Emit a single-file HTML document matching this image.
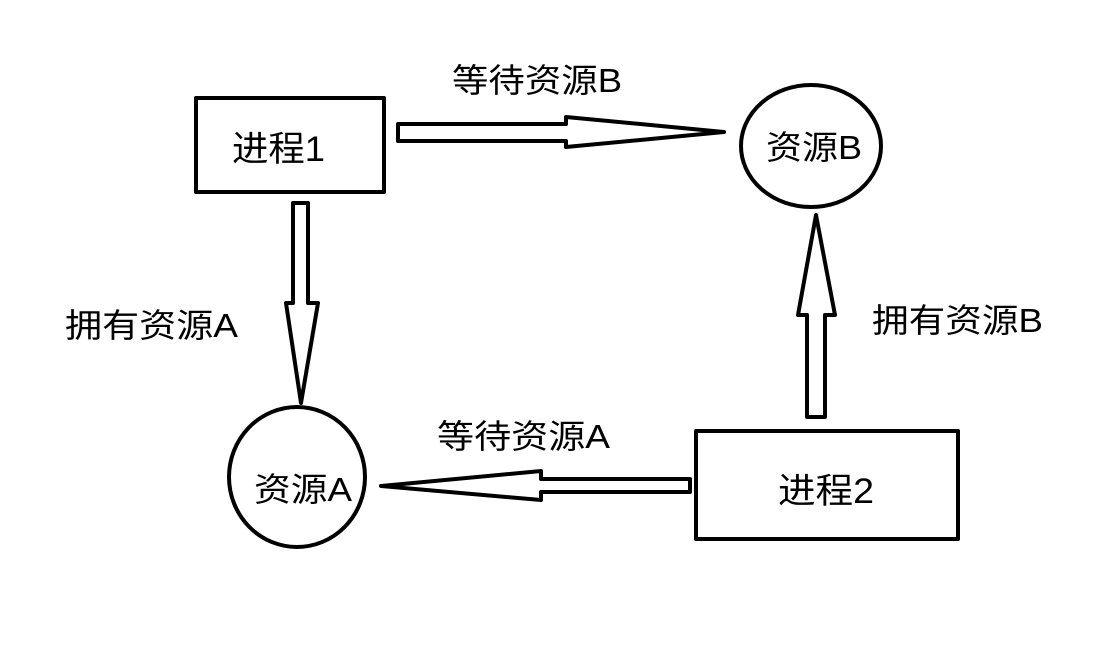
<!DOCTYPE html>
<html><head><meta charset="utf-8"><style>
html,body{margin:0;padding:0;background:#fff;}
svg text{font-family:"Liberation Sans","Noto Sans CJK SC",sans-serif;fill:#000;}
</style></head><body>
<svg width="1112" height="656" viewBox="0 0 1112 656" xmlns="http://www.w3.org/2000/svg">
<g fill="none" stroke="#000" stroke-width="4" stroke-linejoin="round">
<rect x="196" y="98" width="188" height="94"/>
<rect x="696" y="431" width="262" height="108"/>
<ellipse cx="811" cy="146" rx="70" ry="61"/>
<ellipse cx="297" cy="477" rx="68" ry="70"/>
<polygon points="398,124 566,124 566,117 724,132 566,147 566,141 398,141"/>
<polygon points="690,479 541,479 541,471 381,486 541,500 541,492 690,492"/>
<polygon points="293,203 308,203 308,303 318,303 301,403 286,303 293,303"/>
<polygon points="807,417 825,417 825,315 835,315 816,215 798,315 807,315"/>
</g>
<g font-size="33">
<text x="452" y="92" textLength="170" lengthAdjust="spacingAndGlyphs">等待资源B</text>
<text x="65" y="337" textLength="173" lengthAdjust="spacingAndGlyphs">拥有资源A</text>
<text x="872" y="332" textLength="171" lengthAdjust="spacingAndGlyphs">拥有资源B</text>
<text x="437" y="448" textLength="173" lengthAdjust="spacingAndGlyphs">等待资源A</text>
<text x="232" y="161" font-size="35" textLength="93" lengthAdjust="spacingAndGlyphs">进程1</text>
<text x="778" y="503" font-size="35" textLength="96" lengthAdjust="spacingAndGlyphs">进程2</text>
<text x="766" y="159" textLength="96" lengthAdjust="spacingAndGlyphs">资源B</text>
<text x="254" y="501" textLength="98" lengthAdjust="spacingAndGlyphs">资源A</text>
</g>
</svg>
</body></html>
